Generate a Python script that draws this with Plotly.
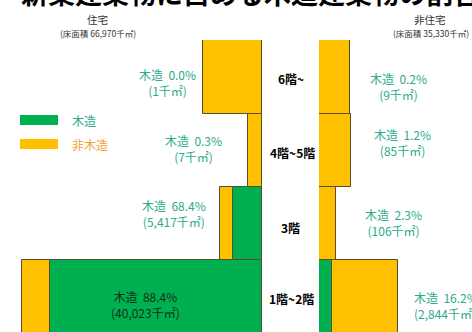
import plotly.graph_objects as go

# ---------------- data ----------------
floors = ["1階~2階", "3階", "4階~5階", "6階~"]          # bottom -> top
res_total = [45280, 7920, 2640, 11130]                 # 住宅 floor area (千㎡)
res_wood_pct = [88.4, 68.4, 0.3, 0.0]                  # 木造 share (%)
res_wood_area = ["40,023", "5,417", "7", "1"]          # 木造 floor area (千㎡)
non_total = [17550, 3780, 7100, 6900]                  # 非住宅 floor area (千㎡)
non_wood_pct = [16.2, 2.3, 1.2, 0.2]
non_wood_area = ["2,844", "106", "85", "9"]

title_text = "新築建築物に占める木造建築物の割合"
GREEN = "#00B050"
ORANGE = "#FFC000"
EDGE = "#55502a"
LABEL = "#2BAA8C"
FONT = "Noto Sans CJK JP"

W, H = 472, 332
TOP = 40
PH = H - TOP
YTOP, YBOT = 3.5, -0.473
UNIT = PH / (YTOP - YBOT)   # pixels per row


def px(x):
    return x / W


def py(y):
    return (H - y) / PH


def yd(y):
    """pixel row from top -> y data coordinate"""
    return YTOP - (y - TOP) / UNIT


rows = list(range(len(floors)))
res_wood = [t * p / 100 for t, p in zip(res_total, res_wood_pct)]
non_wood = [t * p / 100 for t, p in zip(non_total, non_wood_pct)]

fig = go.Figure()
line = dict(color=EDGE, width=1)
fig.add_trace(go.Bar(y=rows, x=res_wood, base=[0] * 4, orientation="h", width=1,
                     marker=dict(color=GREEN, line=line), xaxis="x", yaxis="y", showlegend=False))
fig.add_trace(go.Bar(y=rows, x=[t - w for t, w in zip(res_total, res_wood)], base=res_wood,
                     orientation="h", width=1, marker=dict(color=ORANGE, line=line),
                     xaxis="x", yaxis="y", showlegend=False))
fig.add_trace(go.Bar(y=rows, x=non_wood, base=[0] * 4, orientation="h", width=1,
                     marker=dict(color=GREEN, line=line), xaxis="x2", yaxis="y", showlegend=False))
fig.add_trace(go.Bar(y=rows, x=[t - w for t, w in zip(non_total, non_wood)], base=non_wood,
                     orientation="h", width=1, marker=dict(color=ORANGE, line=line),
                     xaxis="x2", yaxis="y", showlegend=False))

ann = []
# title (cut off at top like the reference)
ann.append(dict(text="<b>" + title_text + "</b>", x=px(250), y=py(14), xref="paper", yref="paper",
                xanchor="center", yanchor="bottom", showarrow=False,
                font=dict(size=27, color="black", family=FONT)))
# headers
for name, tot, hx in [("住宅", sum(res_total), 97), ("非住宅", sum(non_total), 430)]:
    ann.append(dict(text=name, x=px(hx), y=py(20), xref="paper", yref="paper",
                    xanchor="center", yanchor="middle", showarrow=False,
                    font=dict(size=10.5, color="#333", family=FONT)))
    ann.append(dict(text="(床面積 %s千㎡)" % f"{tot:,}", x=px(hx + 1), y=py(33), xref="paper",
                    yref="paper", xanchor="center", yanchor="middle", showarrow=False,
                    font=dict(size=8.5, color="#333", family=FONT)))

# floor category labels in the center gap
cat_pos = [(291, 298), (290, 227), (292, 152), (291, 78)]
for f, (cx, cy) in zip(floors, cat_pos):
    ann.append(dict(text="<b>" + f + "</b>", x=px(cx), y=yd(cy), xref="paper", yref="y",
                    xanchor="center", yanchor="middle", showarrow=False,
                    font=dict(size=12, color="black", family=FONT)))

# value labels
res_pos = [(145, 304), (174, 213), (193, 148), (167, 82)]
non_pos = [(412, 305), (393, 222), (402, 142), (398, 86)]
SP = "\u00a0 "
for i in rows:
    col = "#0f2f18" if i == 0 else LABEL
    ann.append(dict(text="木造%s%.1f%%<br>(%s千㎡)" % (SP, res_wood_pct[i], res_wood_area[i]),
                    x=px(res_pos[i][0]), y=yd(res_pos[i][1]), xref="paper", yref="y",
                    xanchor="center", yanchor="middle",
                    showarrow=False, align="center", font=dict(size=12, color=col, family=FONT)))
    ann.append(dict(text="木造%s%.1f%%<br>(%s千㎡)" % (SP, non_wood_pct[i], non_wood_area[i]),
                    x=px(non_pos[i][0]), y=yd(non_pos[i][1]), xref="paper", yref="y",
                    xanchor="left" if i == 0 else "center", yanchor="middle",
                    showarrow=False, align="left" if i == 0 else "center",
                    font=dict(size=12, color=LABEL, family=FONT)))

# legend
shapes = [
    dict(type="rect", xref="paper", yref="y", x0=px(20), x1=px(58), y0=yd(125), y1=yd(115),
         fillcolor=GREEN, line=dict(width=0)),
    dict(type="rect", xref="paper", yref="y", x0=px(20), x1=px(58), y0=yd(149), y1=yd(139),
         fillcolor=ORANGE, line=dict(width=0)),
]
ann.append(dict(text="木造", x=px(70), y=yd(120), xref="paper", yref="y", xanchor="left",
                yanchor="middle", showarrow=False, font=dict(size=12, color=LABEL, family=FONT)))
ann.append(dict(text="非木造", x=px(70), y=yd(144), xref="paper", yref="y", xanchor="left",
                yanchor="middle", showarrow=False, font=dict(size=12, color="#F5A030", family=FONT)))

hidden = dict(showgrid=False, zeroline=False, showticklabels=False, ticks="", showline=False,
              fixedrange=True)
fig.update_layout(
    width=W, height=H,
    margin=dict(l=0, r=0, t=TOP, b=0),
    paper_bgcolor="white", plot_bgcolor="white",
    barmode="overlay", bargap=0,
    xaxis=dict(domain=[0, 262 / W], range=[49434, 0], **hidden),
    xaxis2=dict(domain=[319 / W, 1], range=[0, 34000], **hidden),
    yaxis=dict(range=[YBOT, YTOP], **hidden),
    annotations=ann, shapes=shapes,
    font=dict(family=FONT),
)
fig.write_html("out.html")
